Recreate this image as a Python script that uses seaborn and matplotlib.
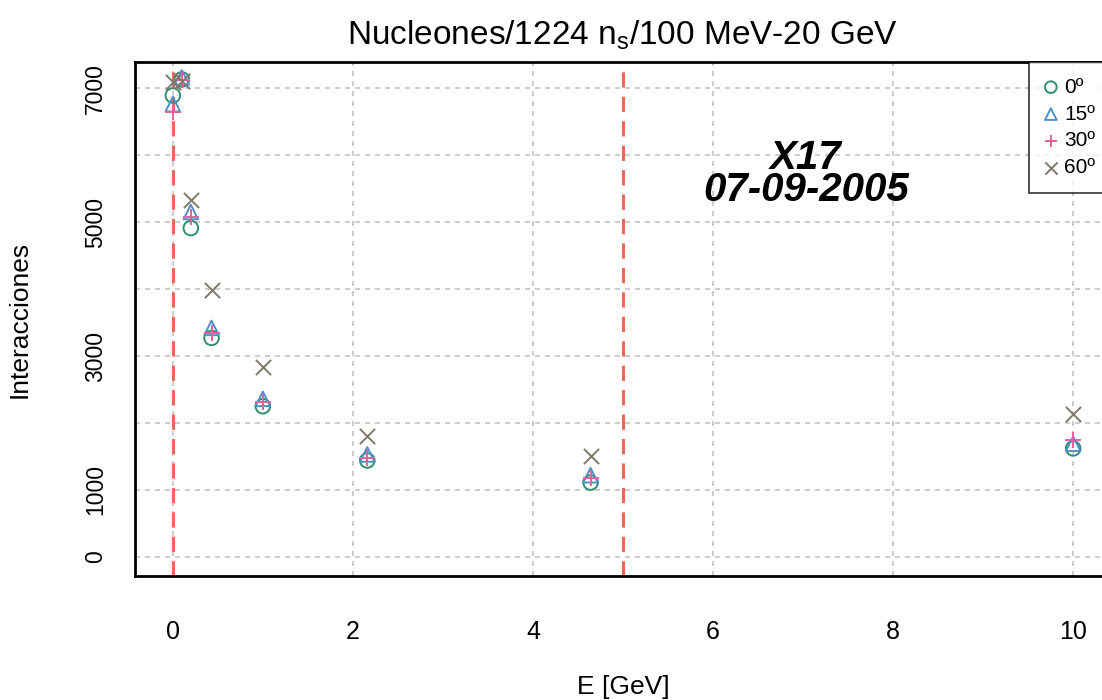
import matplotlib
matplotlib.use("Agg")
import matplotlib.pyplot as plt
import seaborn as sns
import numpy as np

# Energy of the incident nucleons (GeV)
energy = [0.0, 0.1, 0.2, 0.43, 1.0, 2.16, 4.64, 10.0]

# Interaction counts per zenith angle
deg0 = [6890, 7130, 4910, 3270, 2250, 1440, 1110, 1620]
deg15 = [6760, 7160, 5150, 3420, 2360, 1530, 1220, 1690]
deg30 = [6640, 7120, 5070, 3340, 2310, 1470, 1180, 1750]
deg60 = [7090, 7110, 5330, 3985, 2840, 1800, 1500, 2130]

angle_labels = ["0º", "15º", "30º", "60º"]
angle_colors = ["#2f8f6f", "#4f8fc8", "#e8609e", "#7d7868"]
angle_markers = ["o", "^", "+", "x"]

y_ticks = [0, 1000, 2000, 3000, 4000, 5000, 6000, 7000]
y_ticklabels = ["0", "1000", "", "3000", "", "5000", "", "7000"]
x_ticks = [0, 2, 4, 6, 8, 10]
cut_lines = [0, 5]

sns.set_theme(style="white")
plt.rcParams["font.family"] = ["Liberation Sans", "DejaVu Sans"]
plt.rcParams["text.color"] = "black"
plt.rcParams["axes.labelcolor"] = "black"
plt.rcParams["xtick.color"] = "black"
plt.rcParams["ytick.color"] = "black"

W, H = 1102, 700
fig = plt.figure(figsize=(W / 100, H / 100), dpi=100)
left, right, top, bottom = 135, 1111, 62, 576
ax = fig.add_axes([left / W, 1 - bottom / H, (right - left) / W, (bottom - top) / H])

ax.set_xlim(-0.42, 10.42)
ax.set_ylim(-285, 7390)

# grid
for yv in y_ticks:
    ax.axhline(yv, color="#c4c4c4", lw=1.2, ls=(0, (3, 3)), zorder=0)
for xv in x_ticks:
    ax.axvline(xv, color="#c4c4c4", lw=1.2, ls=(0, (3, 3)), zorder=0)

# energy cut markers
for xv in cut_lines:
    ax.axvline(xv, color="#f0665a", lw=2.2, ls=(0, (5, 3)), zorder=1)

series = [deg0, deg15, deg30, deg60]
for vals, lab, col, mk in zip(series, angle_labels, angle_colors, angle_markers):
    if mk in ("o", "^"):
        sns.scatterplot(x=energy, y=vals, marker=mk, s=110, facecolor="none",
                        edgecolor=col, linewidth=1.4, label=lab, ax=ax, zorder=3)
    else:
        sns.scatterplot(x=energy, y=vals, marker=mk, s=120, color=col,
                        linewidth=1.4, label=lab, ax=ax, zorder=3)

ax.set_yticks(y_ticks)
ax.set_yticklabels(y_ticklabels, rotation=90, va="center", fontsize=16.5)
ax.set_xticks(x_ticks)
ax.set_xticklabels([str(v) for v in x_ticks], fontsize=18)
ax.tick_params(axis="y", direction="in", length=5, width=1.2, pad=20, color="black")
ax.tick_params(axis="x", length=0, pad=32)

for s in ax.spines.values():
    s.set_color("black")
    s.set_linewidth(2)

ax.set_xlabel("E [GeV]", fontsize=19, labelpad=22)
ax.set_ylabel("Interacciones", fontsize=19, labelpad=38)
ax.set_title("Nucleones/1224 n$_\\mathregular{s}$/100 MeV-20 GeV", fontsize=24, pad=13)

ax.text(0.6875, 0.782, "X17\n07-09-2005", transform=ax.transAxes, ha="center",
        va="center", fontsize=29, fontweight="bold", fontstyle="italic",
        linespacing=0.78, color="black")

leg = ax.legend(loc="upper right", borderaxespad=0, frameon=True, fancybox=False,
                fontsize=15, handletextpad=0.35, labelspacing=0.38,
                handlelength=0.6, borderpad=0.75, markerscale=0.8)
leg.get_frame().set_edgecolor("black")
leg.get_frame().set_linewidth(1.2)

fig.savefig("out.png", dpi=100)
